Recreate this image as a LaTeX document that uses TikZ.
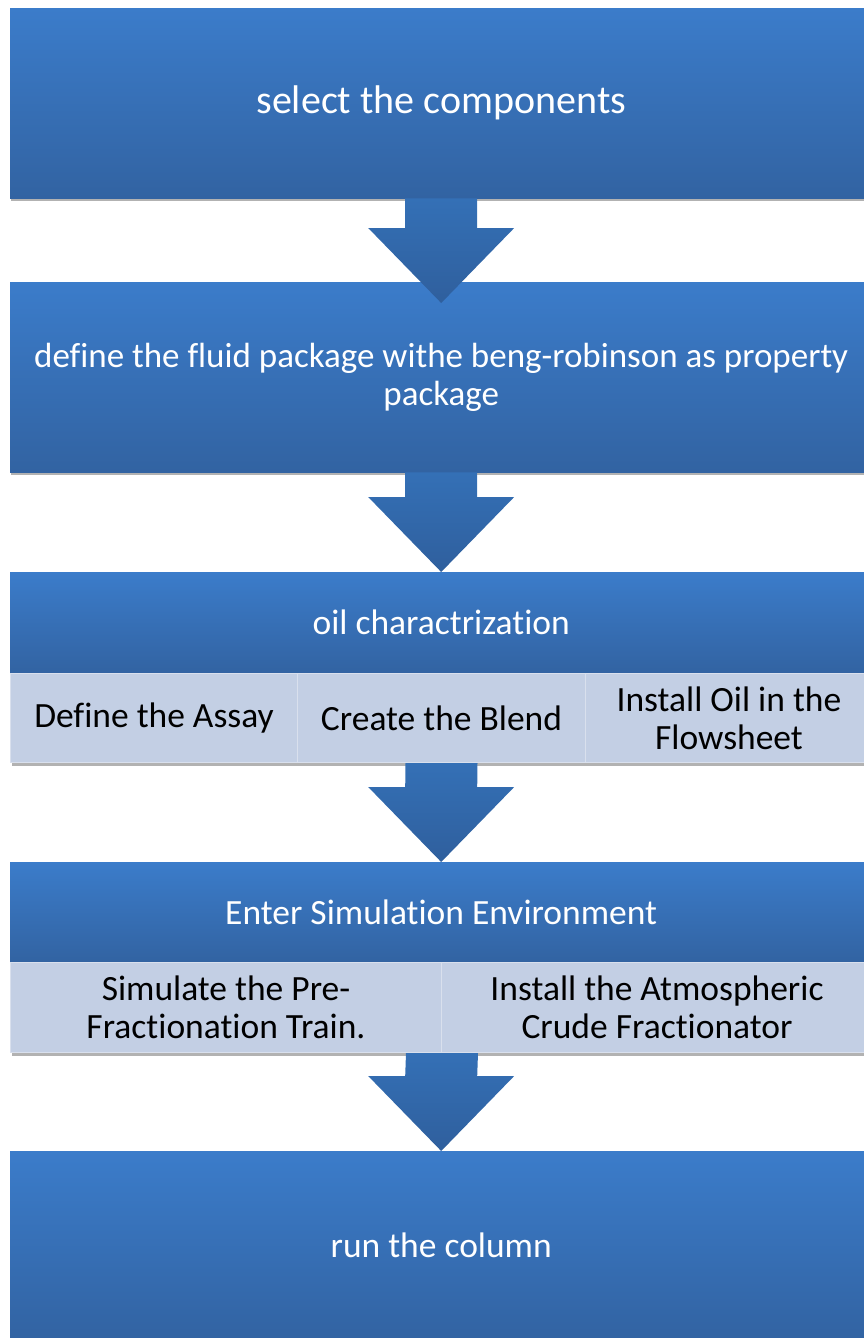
\documentclass[tikz,border=0pt]{standalone}
\usepackage{fontspec}
\setmainfont{Carlito}[Ligatures={NoCommon}]
\usetikzlibrary{calc,shadows}
\definecolor{bluetop}{HTML}{3B7CCA}
\definecolor{bluebot}{HTML}{3263A2}
\definecolor{arrtop}{HTML}{3470B6}
\definecolor{arrbot}{HTML}{2F5F9D}
\definecolor{cellfill}{HTML}{C3CFE4}
\definecolor{celldiv}{HTML}{D9E0ED}
\tikzset{
  boxshadow/.style={drop shadow={shadow xshift=1pt,shadow yshift=-3pt,opacity=0.3,fill=black}},
  bluebox/.style={rectangle, inner sep=0pt, anchor=north west, top color=bluetop, bottom color=bluebot,
    text=white, align=center, font=\fontsize{35.5}{38}\selectfont, boxshadow},
  cellbox/.style={rectangle, inner sep=0pt, anchor=north west, fill=cellfill, draw=celldiv, line width=1pt,
    text=black, align=center, font=\fontsize{35.5}{38}\selectfont, boxshadow},
  arrowblock/.style={top color=arrtop, bottom color=arrbot}
}
\newcommand\blockarrow[2]{%
  \shade[arrowblock] ($(#1)+(-36,0)$) -- ($(#1)+(36,0)$) -- ($(#2)+(36,-75)$) -- ($(#2)+(73,-75)$)
    -- (#2) -- ($(#2)+(-73,-75)$) -- ($(#2)+(-36,-75)$) -- cycle;}
\begin{document}
\begin{tikzpicture}[x=1pt,y=-1pt]
\useasboundingbox (0,0) rectangle (864,1338);
% boxes
\node[bluebox, minimum width=862pt, minimum height=190pt, font=\fontsize{40}{44}\selectfont] (b1) at (10,8) {select the components};
\node[bluebox, minimum width=862pt, minimum height=190pt, font=\fontsize{35}{38}\selectfont] (b2) at (10,282) {define the fluid package withe beng-robinson as property\\package};
\node[bluebox, minimum width=862pt, minimum height=101pt] (b3) at (10,572) {oil charactrization};
\node[cellbox, minimum width=287pt, minimum height=89pt] (c1) at (10,673) {Define the Assay};
\node[cellbox, minimum width=288pt, minimum height=89pt] (c2) at (297,673) {Create the Blend};
\node[cellbox, minimum width=287pt, minimum height=89pt] (c3) at (585,673) {Install Oil in the\\Flowsheet};
\node[bluebox, minimum width=862pt, minimum height=100pt] (b4) at (10,862) {Enter Simulation Environment};
\node[cellbox, minimum width=431pt, minimum height=90pt] (d1) at (10,962) {Simulate the Pre-\\Fractionation Train.};
\node[cellbox, minimum width=431pt, minimum height=90pt] (d2) at (441,962) {Install the Atmospheric\\Crude Fractionator};
\node[bluebox, minimum width=862pt, minimum height=189pt] (b5) at (10,1151) {run the column};
% arrows
\coordinate (t1) at ($(b2.north)+(0,21)$);
\blockarrow{b1.south}{t1}
\blockarrow{b2.south}{b3.north}
\blockarrow{c2.south}{b4.north}
\blockarrow{d1.south east}{b5.north}
\end{tikzpicture}
\end{document}
